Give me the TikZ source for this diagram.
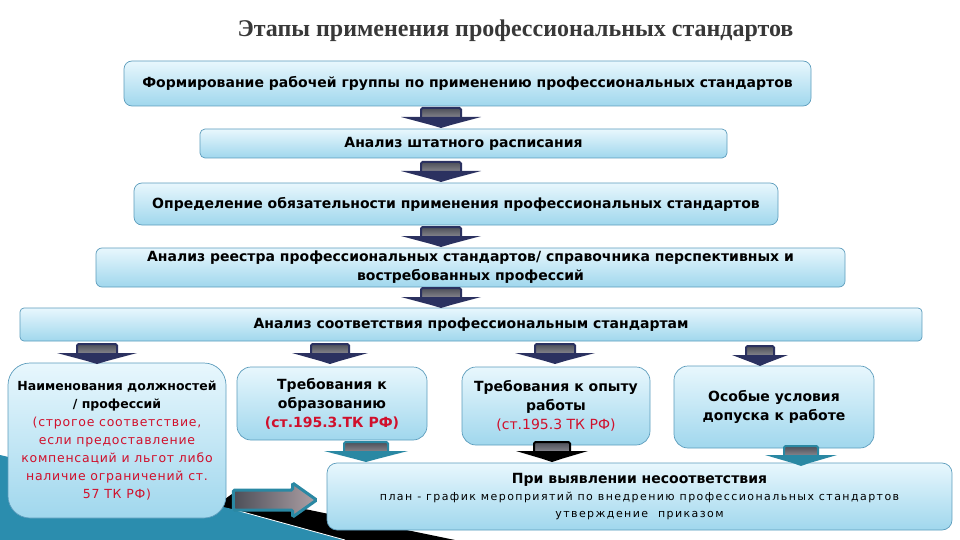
\documentclass[tikz,border=0pt]{standalone}
\usepackage{fontspec}
\setmainfont{DejaVu Sans}
\newfontfamily\titlefont{Liberation Serif}
\newfontfamily\spacedfont[LetterSpace=6]{DejaVu Sans}
\newfontfamily\widefont[LetterSpace=13]{DejaVu Sans}
\usetikzlibrary{calc}
\definecolor{boxtop}{HTML}{E8F7FD}
\definecolor{boxbot}{HTML}{A0D7ED}
\definecolor{boxedge}{HTML}{5C9CBC}
\definecolor{navyarr}{HTML}{2B3160}
\definecolor{tealarr}{HTML}{2A88A3}
\definecolor{shafttop}{HTML}{4C4E58}
\definecolor{shaftbot}{HTML}{9A999F}
\definecolor{redtxt}{HTML}{D0102C}
\definecolor{titlecol}{HTML}{383838}
\definecolor{bgteal}{HTML}{2B8DAE}
\tikzset{
  stage/.style={draw=boxedge, line width=0.7pt, top color=boxtop, bottom color=boxbot,
    inner sep=0pt, align=center, font=\bfseries\fontsize{14}{19}\selectfont},
  pics/blockdown/.style n args={4}{code={
    \draw[draw=#4, line width=2pt, rounded corners=1.5pt, top color=shafttop, bottom color=shaftbot]
      (-#3,-10) rectangle (#3,3);
    \fill[#1] (-#2,-1) -- (#2,-1) -- ({#3*0.5},7) -- (0,10) -- ({-#3*0.5},7) -- cycle;
  }}
}
\begin{document}
\begin{tikzpicture}[x=1pt,y=-1pt]
\useasboundingbox (0,0) rectangle (960,540);
% background decoration
\fill[black] (215,506) -- (232,494) -- (455,540) -- (340,540) -- cycle;
\fill[bgteal] (0,455) -- (232,509) -- (345,540) -- (0,540) -- cycle;
\draw[white, line width=0.8pt] (232,509) -- (345,540);
% title
\node[font=\titlefont\bfseries\fontsize{24}{27}\selectfont, text=titlecol] (title) at (515.5,31) {Этапы применения профессиональных стандартов};
% main stages
\node[stage, rounded corners=8pt, minimum width=687pt, minimum height=45pt] (b1) at (467.5,83.5)
  {Формирование рабочей группы по применению профессиональных стандартов};
\node[stage, rounded corners=5pt, minimum width=527pt, minimum height=29pt] (b2) at (463.5,143.5)
  {Анализ штатного расписания};
\node[stage, rounded corners=8pt, minimum width=644pt, minimum height=42pt] (b3) at (456,204)
  {Определение обязательности применения профессиональных стандартов};
\node[stage, rounded corners=6pt, minimum width=749pt, minimum height=39pt] (b4) at (470.5,267.5)
  {Анализ реестра профессиональных стандартов/ справочника перспективных и\\востребованных профессий};
\node[stage, rounded corners=4pt, minimum width=902pt, minimum height=33pt] (b5) at (471,324.5)
  {Анализ соответствия профессиональным стандартам};
% lower boxes
\node[stage, rounded corners=22pt, minimum width=218pt, minimum height=155pt, font=\fontsize{12.5}{18}\selectfont] (lb) at (117,440.5)
  {\textbf{\fontsize{12.5}{18}\selectfont Наименования должностей}\\
   \textbf{\fontsize{12.5}{18}\selectfont / профессий}\\
   \textcolor{redtxt}{\spacedfont (строгое соответствие,}\\
   \textcolor{redtxt}{\spacedfont если предоставление}\\
   \textcolor{redtxt}{\spacedfont компенсаций и льгот либо}\\
   \textcolor{redtxt}{\spacedfont наличие ограничений ст.}\\
   \textcolor{redtxt}{\spacedfont 57 ТК РФ)}};
\node[stage, rounded corners=14pt, minimum width=190pt, minimum height=73pt] (e1) at (332,403.5)
  {Требования к\\образованию\\\textcolor{redtxt}{(ст.195.3.ТК РФ)}};
\node[stage, rounded corners=14pt, minimum width=188pt, minimum height=78pt] (e2) at (556,406)
  {Требования к опыту\\работы\\\textcolor{redtxt}{\mdseries(ст.195.3 ТК РФ)}};
\node[stage, rounded corners=14pt, minimum width=200pt, minimum height=82pt] (e3) at (774,407)
  {Особые условия\\допуска к работе};
\node[stage, rounded corners=10pt, minimum width=625pt, minimum height=67pt, font=\fontsize{11}{17}\selectfont] (bb) at (639.5,496.5)
  {\textbf{\fontsize{14}{17}\selectfont При выявлении несоответствия}\\
   {\widefont план - график мероприятий по внедрению профессиональных стандартов}\\
   {\widefont утверждение\ \ приказом}};
% block arrows between stages
\pic at (441,118) {blockdown={navyarr}{40}{20}{navyarr}};
\pic at (441,172) {blockdown={navyarr}{40}{20}{navyarr}};
\pic at (441,237) {blockdown={navyarr}{40}{20}{navyarr}};
\pic at (441,298) {blockdown={navyarr}{40}{20}{navyarr}};
\pic at (97,354) {blockdown={navyarr}{40}{20}{navyarr}};
\pic at (330,354) {blockdown={navyarr}{38}{19}{navyarr}};
\pic at (555,354) {blockdown={navyarr}{40}{20}{navyarr}};
\pic at (760,356) {blockdown={navyarr}{28}{14}{navyarr}};
\pic at (366,452) {blockdown={tealarr}{42}{22}{tealarr}};
\pic at (552,452) {blockdown={black}{36}{18}{black}};
\pic at (801,456) {blockdown={tealarr}{36}{17}{tealarr}};
% right arrow from left box to bottom box
\coordinate (rs) at ($(lb.east |- bb.west)+(7,3.5)$);
\coordinate (rt) at ($(bb.west)+(-10,3.5)$);
\draw[tealarr, line width=3pt, rounded corners=1.5pt, left color=shafttop, right color=shaftbot!80!pink]
  ($(rs)+(0,-10)$) -- ($(rt)+(-24,-10)$) -- ($(rt)+(-24,-17)$) -- (rt)
  -- ($(rt)+(-24,17)$) -- ($(rt)+(-24,10)$) -- ($(rs)+(0,10)$) -- cycle;
\end{tikzpicture}
\end{document}
